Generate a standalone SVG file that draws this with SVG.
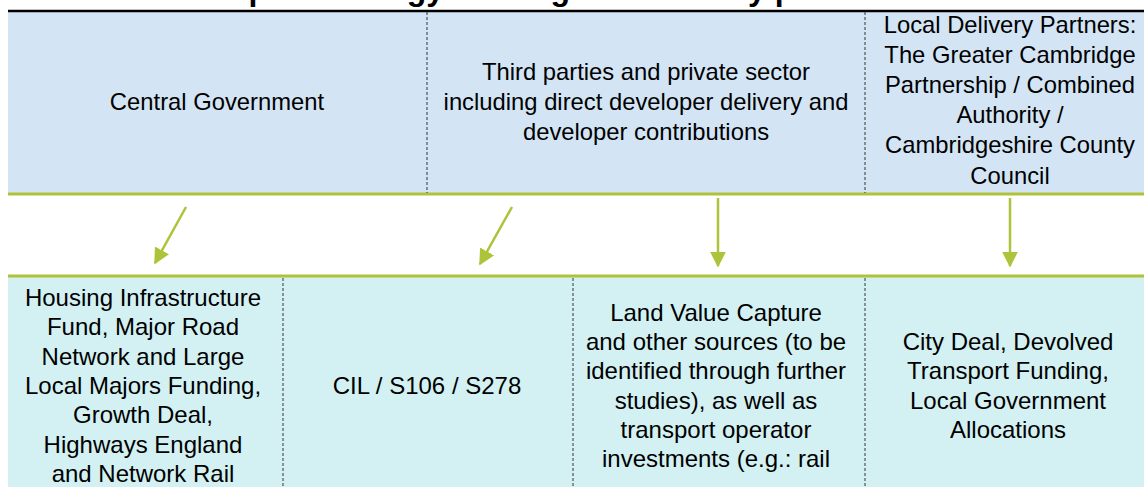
<svg xmlns="http://www.w3.org/2000/svg" width="1144" height="487" viewBox="0 0 1144 487">
<defs>
<style>
.t{font-family:"Liberation Sans",Arial,sans-serif;font-size:23.8px;fill:#000;text-anchor:middle}
.b{font-family:"Liberation Sans",Arial,sans-serif;font-size:24px;fill:#000;text-anchor:middle}
.title{font-family:"Liberation Sans",Arial,sans-serif;font-size:32px;font-weight:bold;fill:#000}
.dash{stroke:#333;stroke-width:1;stroke-dasharray:3,2;fill:none}
.green{stroke:#AEC33A;stroke-width:3;fill:none}
.arr{stroke:#AEC33A;stroke-width:2.5;fill:none;marker-end:url(#ah)}
</style>
<marker id="ah" viewBox="0 0 10 10" refX="9" refY="5" markerWidth="6.4" markerHeight="6.4" markerUnits="strokeWidth" orient="auto">
<path d="M0,0 L10,5 L0,10 z" fill="#AEC33A"/>
</marker>
</defs>
<rect width="1144" height="487" fill="#fff"/>
<text class="title" x="163" y="0">Transport strategy funding and delivery partners</text>
<g id="header">
<rect x="8" y="12" width="1136" height="182" fill="#D3E5F4"/>
<line x1="8" y1="11" x2="1144" y2="11" stroke="#000" stroke-width="2.5"/>
<line x1="8" y1="194" x2="1144" y2="194" class="green"/>
<line x1="427" y1="12" x2="427" y2="193" class="dash"/>
<line x1="865" y1="12" x2="865" y2="193" class="dash"/>
</g>
<g id="central-government">
<text class="t" x="217" y="110">Central Government</text>
</g>
<g id="third-parties">
<text class="t" x="646" y="80">Third parties and private sector</text>
<text class="t" x="646" y="110">including direct developer delivery and</text>
<text class="t" x="646" y="140">developer contributions</text>
</g>
<g id="local-delivery-partners">
<text class="t" x="1010" y="33">Local Delivery Partners:</text>
<text class="t" x="1010" y="63">The Greater Cambridge</text>
<text class="t" x="1010" y="93">Partnership / Combined</text>
<text class="t" x="1010" y="123">Authority /</text>
<text class="t" x="1010" y="153">Cambridgeshire County</text>
<text class="t" x="1010" y="184">Council</text>
</g>
<g id="lower">
<rect x="8" y="277" width="1136" height="210" fill="#D3F1F3"/>
<line x1="8" y1="276" x2="1144" y2="276" class="green"/>
<line x1="283" y1="278" x2="283" y2="487" class="dash"/>
<line x1="573" y1="278" x2="573" y2="487" class="dash"/>
<line x1="865" y1="278" x2="865" y2="487" class="dash"/>
</g>
<g id="connectors">
<line x1="186" y1="207" x2="155" y2="263" class="arr"/>
<line x1="512" y1="207" x2="480" y2="264" class="arr"/>
<line x1="718" y1="198" x2="718" y2="266" class="arr"/>
<line x1="1010" y1="198" x2="1010" y2="266" class="arr"/>
</g>
<g id="central-funding">
<text class="b" x="143" y="306">Housing Infrastructure</text>
<text class="b" x="143" y="335">Fund, Major Road</text>
<text class="b" x="143" y="365">Network and Large</text>
<text class="b" x="143" y="394">Local Majors Funding,</text>
<text class="b" x="143" y="423">Growth Deal,</text>
<text class="b" x="143" y="453">Highways England</text>
<text class="b" x="143" y="482">and Network Rail</text>
</g>
<g id="developer-contributions">
<text class="b" x="427" y="394">CIL / S106 / S278</text>
</g>
<g id="land-value-capture">
<text class="b" x="716" y="321">Land Value Capture</text>
<text class="b" x="716" y="350">and other sources (to be</text>
<text class="b" x="716" y="379">identified through further</text>
<text class="b" x="716" y="409">studies), as well as</text>
<text class="b" x="716" y="438">transport operator</text>
<text class="b" x="716" y="467">investments (e.g.: rail</text>
</g>
<g id="local-funding">
<text class="b" x="1008" y="350">City Deal, Devolved</text>
<text class="b" x="1008" y="379">Transport Funding,</text>
<text class="b" x="1008" y="409">Local Government</text>
<text class="b" x="1008" y="438">Allocations</text>
</g>
</svg>
